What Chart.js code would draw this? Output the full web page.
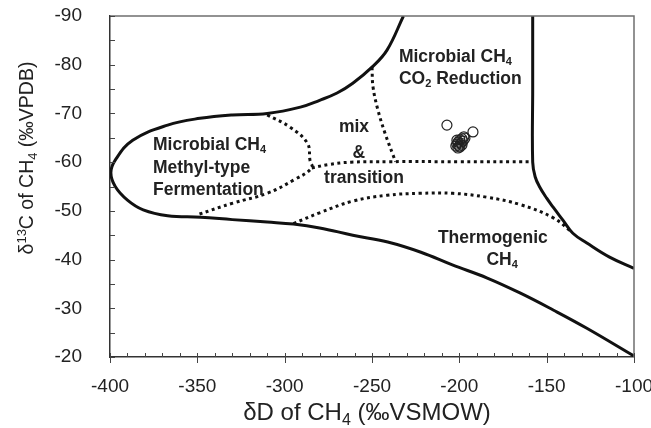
<!DOCTYPE html>
<html>
<head>
<meta charset="utf-8">
<script src="https://cdn.jsdelivr.net/npm/chart.js@4"></script>
<style>
  html, body { margin: 0; padding: 0; background: #fff; }
  #wrap { width: 651px; height: 428px; position: relative; }
</style>
</head>
<body>
<div id="wrap"><canvas id="chart"></canvas></div>
<script>
/* Boundary curves of the dD / d13C methane genesis diagram */
const outerX = [-232, -241.4, -250, -261, -270, -280, -291, -310, -330, -348.5, -367, -387, -397, -399.5, -397, -390, -381, -367, -348, -330, -310, -295, -280, -261, -241, -222, -204, -184, -165, -146, -127, -100]
const outerY = [-90, -83, -79.5, -76.2, -74.2, -72.7, -71.3, -70, -69.7, -69, -67.6, -64.5, -60.4, -57.8, -55, -52.2, -50.2, -49, -48.7, -48.2, -47.7, -47.3, -46.5, -45, -43.6, -41.5, -38.9, -36.2, -33.1, -29.6, -25.9, -20.2]

const thermoX = [-158, -158, -158, -156.6, -154, -150, -146.4, -140.7, -135, -127, -114, -100]
const thermoY = [-90, -75, -60, -57, -54.9, -52.6, -50.8, -48.1, -45.4, -43.4, -40.5, -38.2]

/* dotted boundaries */
const methylX = [-310, -297, -287, -285.5, -284.5, -295, -310, -329.6, -350]
const methylY = [-69.7, -67.2, -63.9, -60.4, -58.8, -56.3, -53.6, -51.6, -49.2]

const mixBaseX = [-284.5, -275, -262, -240, -200, -158]
const mixBaseY = [-58.8, -59.5, -60, -60.1, -60.1, -60.1]

const mixSideX = [-250, -249.4, -246.6, -242.6, -238, -236.5]
const mixSideY = [-79.5, -75.4, -70.7, -66, -61.5, -60.1]

const transX = [-295, -280, -261, -241.4, -222.5, -203.7, -184.2, -165.3, -146.4, -135.5]
const transY = [-47.4, -49.6, -52, -53.2, -53.6, -53.6, -52.8, -51.3, -48.6, -45.6]

/* samples */
const sampleX = [-207.1, -192.2, -197.4, -198.5, -199.7, -197.9, -200.8, -199.1, -201.4, -200.2, -198.5, -202, -200.8, -199.7, -196.8, -201.4]
const sampleY = [-67.6, -66.2, -65.2, -64.8, -64.6, -64.3, -64.1, -63.9, -63.7, -63.3, -63.5, -63.3, -62.9, -63.1, -64.9, -64.5]

const xTicks = [-400, -350, -300, -250, -200, -150, -100]
const yTicks = [-90, -80, -70, -60, -50, -40, -30, -20]

/* region labels: segments are [text, '' | 'sub' | 'sup'] */
const regionLabels = [
    {x: -375.4, y: -63.5, align: 'left', parts: [['Microbial CH', ''], ['4', 'sub']]},
    {x: -375.4, y: -58.8, align: 'left', parts: [['Methyl-type', '']]},
    {x: -375.4, y: -54.3, align: 'left', parts: [['Fermentation', '']]},
    {x: -234.6, y: -81.6, align: 'left', parts: [['Microbial CH', ''], ['4', 'sub']]},
    {x: -234.6, y: -77.1, align: 'left', parts: [['CO', ''], ['2', 'sub'], [' Reduction', '']]},
    {x: -260.3, y: -67.2, align: 'center', parts: [['mix', '']]},
    {x: -257.5, y: -61.9, align: 'center', parts: [['&', '']]},
    {x: -254.6, y: -56.7, align: 'center', parts: [['transition', '']]},
    {x: -180.8, y: -44.4, align: 'center', parts: [['Thermogenic', '']]},
    {x: -175.5, y: -39.9, align: 'center', parts: [['CH', ''], ['4', 'sub']]}
]

const xTitle = [['δD of CH', ''], ['4', 'sub'], [' (‰VSMOW)', '']]
const yTitle = [['δ', ''], ['13', 'sup'], ['C of CH', ''], ['4', 'sub'], [' (‰VPDB)', '']]

function toPts(xs, ys) {
    return xs.map((x, i) => ({x: x, y: ys[i]}))
}

/*Escreve texto com subscrito/sobrescrito*/
function drawRich(ctx, parts, x, y, size, weight, align) {
    const big = `${weight} ${size}px "Liberation Sans", Arial, sans-serif`
    const small = `${weight} ${Math.round(size * 0.65)}px "Liberation Sans", Arial, sans-serif`
    let total = 0
    parts.forEach(p => {
        ctx.font = p[1] ? small : big
        total += ctx.measureText(p[0]).width
    })
    let cx = x
    if (align === 'center') cx = x - total / 2
    ctx.textBaseline = 'middle'
    ctx.textAlign = 'left'
    parts.forEach(p => {
        ctx.font = p[1] ? small : big
        let dy = 0
        if (p[1] === 'sub') dy = size * 0.3
        if (p[1] === 'sup') dy = -size * 0.3
        ctx.fillText(p[0], cx, y + dy)
        cx += ctx.measureText(p[0]).width
    })
}

const decor = {
    id: 'decor',
    afterDraw(chart) {
        const ctx = chart.ctx
        const a = chart.chartArea
        const sx = chart.scales.x
        const sy = chart.scales.y
        ctx.save()

        /*moldura de cima e da direita*/
        ctx.strokeStyle = '#6f6f6f'
        ctx.lineWidth = 1.5
        ctx.beginPath()
        ctx.moveTo(a.left, a.top)
        ctx.lineTo(a.right, a.top)
        ctx.lineTo(a.right, a.bottom)
        ctx.stroke()

        /*marcas internas*/
        ctx.strokeStyle = '#444'
        ctx.lineWidth = 1
        ctx.beginPath()
        for (let v = -400; v <= -100; v += 10) {
            const px = Math.round(sx.getPixelForValue(v)) + 0.5
            const major = xTicks.includes(v)
            ctx.moveTo(px, a.bottom - 4)
            ctx.lineTo(px, a.bottom + (major ? 6 : 0))
        }
        for (let v = -90; v <= -20; v += 5) {
            const py = Math.round(sy.getPixelForValue(v)) + 0.5
            ctx.moveTo(a.left, py)
            ctx.lineTo(a.left + 5, py)
        }
        ctx.stroke()

        /*rotulos das regioes*/
        ctx.fillStyle = '#222'
        regionLabels.forEach(l => {
            drawRich(ctx, l.parts, sx.getPixelForValue(l.x), sy.getPixelForValue(l.y), 17.5, 'bold', l.align)
        })

        /*titulos dos eixos*/
        drawRich(ctx, xTitle, 367, 413, 24, 'normal', 'center')
        ctx.translate(28, 158)
        ctx.rotate(-Math.PI / 2)
        drawRich(ctx, yTitle, 0, 0, 19.5, 'normal', 'center')
        ctx.restore()
    }
}

const solid = {borderColor: '#111', borderWidth: 3, pointRadius: 0, showLine: true, tension: 0.4, fill: false}
const dotted = {borderColor: '#111', borderWidth: 3, borderDash: [3, 3.5], pointRadius: 0, showLine: true, tension: 0.4, fill: false}

const ctx = document.getElementById('chart').getContext('2d')
const chart = new Chart(ctx, {
    type: 'scatter',
    data: {
        datasets: [
            {label: 'samples', data: toPts(sampleX, sampleY), pointRadius: 5, pointBorderWidth: 1.2,
             pointBorderColor: '#222', pointBackgroundColor: 'rgba(255,255,255,0)', showLine: false},
            Object.assign({label: 'outer', data: toPts(outerX, outerY)}, solid),
            Object.assign({label: 'thermo', data: toPts(thermoX, thermoY)}, solid),
            Object.assign({label: 'methyl', data: toPts(methylX, methylY)}, dotted),
            Object.assign({label: 'mixBase', data: toPts(mixBaseX, mixBaseY)}, dotted),
            Object.assign({label: 'mixSide', data: toPts(mixSideX, mixSideY)}, dotted),
            Object.assign({label: 'trans', data: toPts(transX, transY)}, dotted)
        ]
    },
    options: {
        responsive: true,
        maintainAspectRatio: false,
        animation: false,
        layout: {padding: {left: 0, right: 17, top: 16, bottom: 0}},
        plugins: {legend: {display: false}, tooltip: {enabled: false}},
        scales: {
            x: {
                type: 'linear', min: -400, max: -100,
                grid: {display: false},
                border: {display: true, color: '#333', width: 1.5},
                ticks: {stepSize: 50, padding: 10, color: '#222', font: {size: 19, family: '"Liberation Sans", Arial, sans-serif'}},
                afterFit(scale) { scale.height = 71; scale.paddingLeft = 0; scale.paddingRight = 0 }
            },
            y: {
                type: 'linear', min: -90, max: -20, reverse: true,
                grid: {display: false},
                border: {display: true, color: '#333', width: 1.5},
                ticks: {stepSize: 10, padding: 20, color: '#222', font: {size: 19, family: '"Liberation Sans", Arial, sans-serif'}},
                afterFit(scale) { scale.width = 110; scale.paddingTop = 0; scale.paddingBottom = 0 }
            }
        }
    },
    plugins: [decor]
})
</script>
</body>
</html>
